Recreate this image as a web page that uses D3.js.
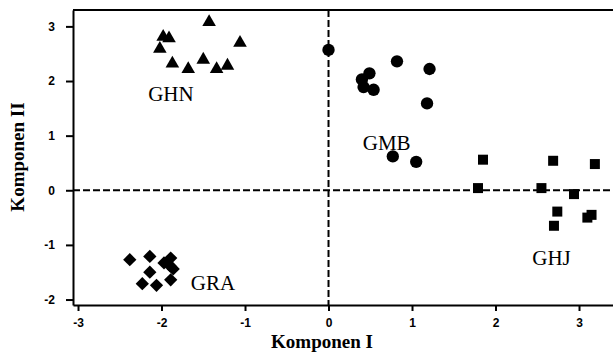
<!DOCTYPE html>
<html>
<head>
<meta charset="utf-8">
<script src="https://cdn.jsdelivr.net/npm/d3@7"></script>
<style>
  html, body { margin: 0; padding: 0; background: #fff; }
  svg { display: block; }
</style>
</head>
<body>
<svg id="chart"></svg>
<script>
// group data, [Komponen I, Komponen II]
const ghn = [[-2.02, 2.59], [-1.98, 2.81], [-1.91, 2.78], [-1.87, 2.32], [-1.68, 2.22],
  [-1.50, 2.39], [-1.43, 3.08], [-1.34, 2.22], [-1.21, 2.28], [-1.06, 2.70]];
const gmb = [[0.00, 2.57], [0.82, 2.36], [1.21, 2.22], [0.49, 2.14], [0.40, 2.03],
  [0.42, 1.89], [0.54, 1.84], [1.18, 1.59], [0.77, 0.62], [1.05, 0.52]];
const ghj = [[1.85, 0.56], [2.69, 0.54], [3.19, 0.48], [1.79, 0.04], [2.55, 0.04],
  [2.94, -0.07], [2.74, -0.39], [3.10, -0.50], [3.15, -0.45], [2.70, -0.65]];
const gra = [[-2.38, -1.27], [-2.14, -1.21], [-2.14, -1.50], [-2.23, -1.71], [-2.06, -1.74],
  [-1.89, -1.24], [-1.97, -1.33], [-1.90, -1.38], [-1.86, -1.44], [-1.89, -1.64]];

const groupNames = ['GHN', 'GMB', 'GHJ', 'GRA'];
const labelPos = [[-2.16, 1.64], [0.41, 0.74], [2.44, -1.37], [-1.65, -1.83]];
const xTicks = [-3, -2, -1, 0, 1, 2, 3];
const yTicks = [-2, -1, 0, 1, 2, 3];

const W = 613, H = 352;
const margin = { top: 10, left: 73, bottom: 305 };

const svg = d3.select('#chart').attr('width', W).attr('height', H);

const x = d3.scaleLinear().domain([-3.06, 3.407]).range([margin.left, W]);
const y = d3.scaleLinear().domain([-2.1, 3.3]).range([margin.bottom, margin.top]);

const fmt = (d) => (d < 0 ? '-' + (-d) : String(d));

// dashed zero lines
svg.append('line')
  .attr('x1', margin.left).attr('x2', W)
  .attr('y1', y(0)).attr('y2', y(0))
  .attr('stroke', '#000').attr('stroke-width', 2)
  .attr('stroke-dasharray', '7,3');
svg.append('line')
  .attr('x1', x(0)).attr('x2', x(0))
  .attr('y1', margin.top).attr('y2', margin.bottom)
  .attr('stroke', '#000').attr('stroke-width', 2)
  .attr('stroke-dasharray', '7,3');

// top frame
svg.append('line')
  .attr('x1', margin.left).attr('x2', W)
  .attr('y1', margin.top).attr('y2', margin.top)
  .attr('stroke', '#000').attr('stroke-width', 2);

const xAxis = svg.append('g')
  .attr('transform', `translate(0,${margin.bottom})`)
  .call(d3.axisBottom(x).tickValues(xTicks).tickFormat(fmt)
    .tickSize(6).tickSizeOuter(0).tickPadding(7));

const yAxis = svg.append('g')
  .attr('transform', `translate(${margin.left},0)`)
  .call(d3.axisLeft(y).tickValues(yTicks).tickFormat(fmt)
    .tickSize(7).tickSizeOuter(0).tickPadding(11));

[xAxis, yAxis].forEach((g) => {
  g.attr('font-size', 12).attr('font-family', '"Liberation Sans", Arial, sans-serif');
  g.select('.domain').attr('stroke-width', 2);
  g.selectAll('.tick line').attr('stroke-width', 2);
  g.selectAll('.tick text')
    .attr('font-weight', 'bold')
    .attr('fill', '#000');
});

// axis titles
svg.append('text')
  .attr('x', 322).attr('y', 348)
  .attr('text-anchor', 'middle')
  .attr('font-family', '"Liberation Serif", "Times New Roman", serif')
  .attr('font-weight', 'bold')
  .attr('font-size', 19)
  .text('Komponen I');

svg.append('text')
  .attr('transform', 'translate(24,157) rotate(-90)')
  .attr('text-anchor', 'middle')
  .attr('font-family', '"Liberation Serif", "Times New Roman", serif')
  .attr('font-weight', 'bold')
  .attr('font-size', 19)
  .text('Komponen II');

// markers
const groups = [
  { data: ghn, symbol: d3.symbolTriangle, size: 80, rot: 0 },
  { data: gmb, symbol: d3.symbolCircle, size: 120, rot: 0 },
  { data: ghj, symbol: d3.symbolSquare, size: 100, rot: 0 },
  { data: gra, symbol: d3.symbolSquare, size: 88, rot: 45 },
];

groups.forEach((g) => {
  svg.append('g')
    .selectAll('path')
    .data(g.data)
    .join('path')
    .attr('d', d3.symbol().type(g.symbol).size(g.size))
    .attr('transform', (d) => `translate(${x(d[0])},${y(d[1])}) rotate(${g.rot})`)
    .attr('fill', '#000');
});

// group labels
svg.append('g')
  .selectAll('text')
  .data(groupNames)
  .join('text')
  .attr('x', (d, i) => x(labelPos[i][0]))
  .attr('y', (d, i) => y(labelPos[i][1]))
  .attr('font-family', '"Liberation Serif", "Times New Roman", serif')
  .attr('font-size', 21)
  .attr('fill', '#000')
  .text((d) => d);
</script>
</body>
</html>
